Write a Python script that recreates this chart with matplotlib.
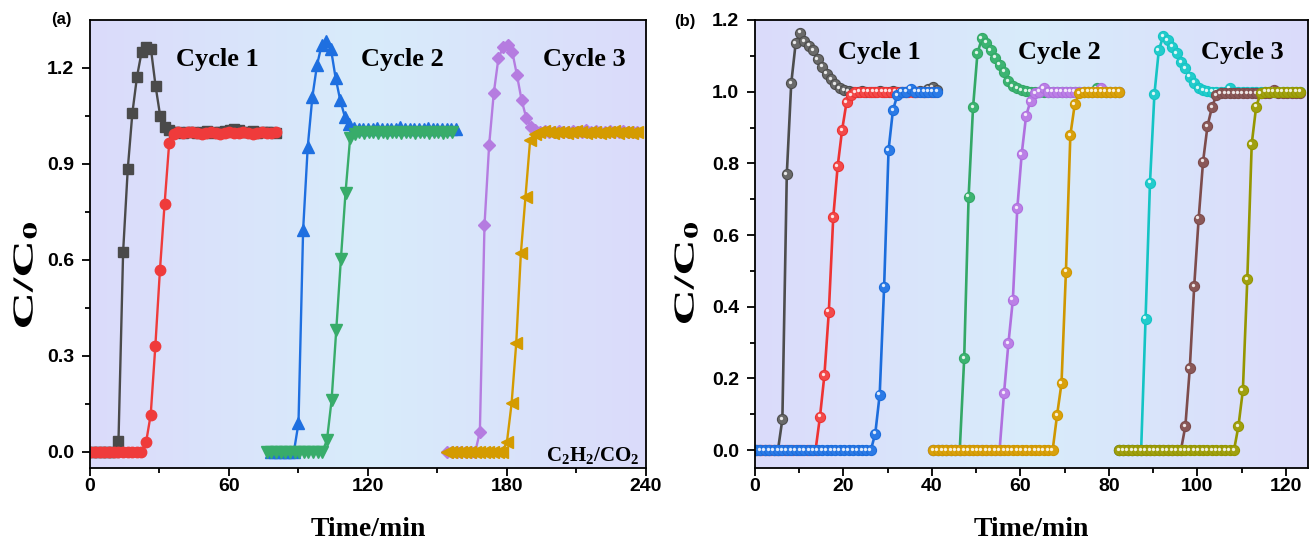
import matplotlib
matplotlib.use("Agg")
import matplotlib.pyplot as plt
import numpy as np
from matplotlib.colors import LinearSegmentedColormap
from matplotlib.transforms import offset_copy, Affine2D
from matplotlib.textpath import TextPath
from matplotlib.patches import PathPatch
from matplotlib.font_manager import FontProperties

plt.rcParams["font.family"] = "Liberation Sans"
plt.rcParams["mathtext.fontset"] = "custom"
plt.rcParams["mathtext.rm"] = "Liberation Serif:bold"
plt.rcParams["mathtext.bf"] = "Liberation Serif:bold"
plt.rcParams["mathtext.it"] = "Liberation Serif:bold"

# ---------------- panel (a): sampling every 2 min ----------------
a_step = 2.0
a_black_t0 = 0.3
a_black = [0, 0, 0, 0, 0, 0,
           0.035, 0.626, 0.884, 1.06, 1.173, 1.251, 1.267, 1.26, 1.144, 1.05, 1.017, 1.005,
           1.0, 1.0, 0.998, 1.0, 1.0, 0.997, 1.0, 1.002, 0.998, 1.0,
           1.0, 1.003, 1.005, 1.01, 1.005, 1.0, 1.0, 1.002, 0.998, 1.0,
           1.0, 1.0, 0.998]
a_red_t0 = 0.2
a_red = [0, 0, 0, 0, 0, 0, 0, 0, 0, 0, 0, 0,
         0.03, 0.116, 0.33, 0.569, 0.775, 0.967, 0.995,
         1.0, 0.998, 1.0, 1.0, 0.997, 0.995, 0.998, 1.0, 0.996, 0.995,
         0.998, 1.0, 0.997, 0.998, 1.0, 0.996, 0.994, 0.998, 1.0, 0.998,
         0.997, 1.0]
a_blue_t0 = 78.0
a_blue = [0, 0, 0, 0, 0, 0,
          0.09, 0.694, 0.954, 1.11, 1.209, 1.272, 1.285, 1.26, 1.17, 1.10, 1.048, 1.025,
          1.012, 1.01, 1.01, 1.008, 1.01, 1.012, 1.01, 1.01, 1.008, 1.01,
          1.015, 1.01, 1.01, 1.008, 1.01, 1.01, 1.012, 1.01, 1.008, 1.01,
          1.01, 1.01, 1.008]
a_green_t0 = 76.3
a_green = [0, 0, 0, 0, 0, 0, 0, 0, 0, 0, 0, 0, 0,
           0.0375, 0.1625, 0.381, 0.602, 0.81, 0.982,
           0.995, 1.0, 0.998, 1.0, 1.0, 0.997, 1.0, 0.998, 1.0, 1.0,
           0.998, 1.0, 1.0, 0.997, 1.0, 1.0, 0.998, 1.0, 1.0, 0.998,
           1.0, 1.0]
a_purple_t0 = 154.3
a_purple = [0, 0, 0, 0, 0, 0, 0,
            0.063, 0.709, 0.959, 1.121, 1.23, 1.265, 1.272, 1.25, 1.178, 1.10, 1.045, 1.015,
            1.005, 1.0, 1.002, 1.0, 1.0, 1.003, 1.0, 1.0, 1.002, 1.0,
            1.0, 1.005, 1.0, 1.002, 1.0, 1.0, 1.003, 1.0, 1.0, 1.002,
            1.0, 1.0, 1.0]
a_orange_t0 = 154.0
a_orange = [0, 0, 0, 0, 0, 0, 0, 0, 0, 0, 0, 0, 0,
            0.032, 0.152, 0.34, 0.621, 0.798, 0.975,
            0.995, 1.0, 1.003, 1.0, 0.998, 1.0, 1.0, 0.997, 1.0, 1.002,
            1.0, 0.998, 1.0, 1.0, 0.997, 1.0, 1.0, 1.002, 0.998, 1.0,
            1.0, 0.998, 1.0]

# ---------------- panel (b): sampling every 1 min ----------------
b_step = 1.0
b_gray_t0 = 0.2
b_gray = [0, 0, 0, 0, 0, 0,
          0.086, 0.77, 1.023, 1.135, 1.165, 1.14, 1.128, 1.115, 1.09, 1.07, 1.05, 1.035, 1.02, 1.01, 1.004,
          1.002, 1.0, 1.0, 1.002, 1.0, 1.0, 1.0, 1.003, 1.0, 1.0,
          1.002, 1.0, 1.0, 1.0, 1.005, 1.0, 1.002, 1.0, 1.008, 1.012, 1.005]
b_red_t0 = 0.7
b_red = [0, 0, 0, 0, 0, 0, 0, 0, 0, 0, 0, 0, 0, 0,
         0.093, 0.209, 0.386, 0.65, 0.792, 0.893, 0.97,
         0.99, 0.998, 1.0, 1.0, 1.0, 1.0, 1.0, 1.0, 1.0, 1.0,
         1.0, 1.0, 1.0, 1.0, 1.0, 1.0, 1.0, 1.0, 1.0, 1.0]
b_blue_t0 = 0.2
b_blue = [0, 0, 0, 0, 0, 0, 0, 0, 0, 0, 0, 0, 0, 0, 0, 0, 0, 0, 0, 0,
          0, 0, 0, 0, 0, 0, 0,
          0.046, 0.155, 0.456, 0.837, 0.949, 0.99,
          1.0, 1.0, 1.008, 1.0, 1.0, 1.0, 1.0, 1.0, 1.0]
b_green_t0 = 40.3
b_green = [0, 0, 0, 0, 0, 0, 0,
           0.256, 0.707, 0.956, 1.107, 1.149, 1.137, 1.116, 1.095, 1.075, 1.056, 1.03, 1.016, 1.009,
           1.004, 1.002,
           1.0, 1.0, 1.0, 1.0, 1.0, 1.0, 1.0, 1.0, 1.0, 1.0,
           1.0, 1.0, 1.0, 1.0, 1.0, 1.01, 1.0, 1.0, 1.0, 1.0, 1.0]
b_purple_t0 = 40.3
b_purple = [0, 0, 0, 0, 0, 0, 0, 0, 0, 0, 0, 0, 0, 0, 0, 0,
            0.158, 0.298, 0.419, 0.674, 0.826, 0.933, 0.974, 0.995,
            1.0, 1.01, 1.0, 1.0, 1.0, 1.0, 1.0, 1.0, 1.0, 1.0,
            1.0, 1.0, 1.0, 1.0, 1.01, 1.0, 1.0, 1.0, 1.0]
b_orange_t0 = 40.3
b_orange = [0, 0, 0, 0, 0, 0, 0, 0, 0, 0, 0, 0, 0, 0, 0, 0, 0, 0, 0, 0,
            0, 0, 0, 0, 0, 0, 0, 0,
            0.098, 0.186, 0.498, 0.879, 0.965, 0.995,
            1.0, 1.0, 1.0, 1.0, 1.0, 1.0, 1.0, 1.0, 1.0]
b_cyan_t0 = 82.3
b_cyan = [0, 0, 0, 0, 0, 0,
          0.366, 0.746, 0.993, 1.116, 1.155, 1.144, 1.125, 1.107, 1.083, 1.065, 1.042, 1.025, 1.009,
          1.004, 1.002,
          1.0, 1.0, 1.0, 1.0, 1.01, 1.0, 1.0, 1.0, 1.0, 1.0,
          1.0, 1.0, 1.0, 1.0, 1.0, 1.0, 1.0, 1.0, 1.0, 1.0, 1.0]
b_brown_t0 = 82.3
b_brown = [0, 0, 0, 0, 0, 0, 0, 0, 0, 0, 0, 0, 0, 0, 0,
           0.067, 0.228, 0.458, 0.645, 0.805, 0.904, 0.956, 0.99,
           0.995, 0.995, 0.995, 0.995, 0.995, 0.995, 0.995, 0.995, 0.995, 0.995,
           0.995, 0.995, 1.005, 0.995, 0.995, 0.995, 0.995, 0.995, 0.995]
b_olive_t0 = 82.3
b_olive = [0, 0, 0, 0, 0, 0, 0, 0, 0, 0, 0, 0, 0, 0, 0, 0, 0, 0, 0, 0,
           0, 0, 0, 0, 0, 0, 0,
           0.067, 0.167, 0.476, 0.854, 0.958, 0.995,
           1.0, 1.0, 1.0, 1.0, 1.0, 1.0, 1.0, 1.0, 1.0]

cycle_labels = ["Cycle 1", "Cycle 2", "Cycle 3"]
a_label_x = [54.8, 134.7, 213.6]
b_label_x = [28.2, 68.8, 110.2]


def times(t0, step, y):
    return t0 + step * np.arange(len(y))


def tall_ylabel(fig, s, cx, cy, size, length):
    # y label drawn as a path so it can be stretched along its length like the original
    tp = TextPath((0, 0), s, size=size, prop=FontProperties(family="Liberation Serif", weight="bold"))
    bb = tp.get_extents()
    sx = length / bb.width
    tr = (Affine2D().translate(-(bb.x0 + bb.x1) / 2, -(bb.y0 + bb.y1) / 2)
          .scale(sx, 1).rotate_deg(90).translate(cx, cy))
    fig.add_artist(PathPatch(tp, transform=tr, fc="black", ec="none"))


fig = plt.figure(figsize=(13.1, 5.46), dpi=100)
ax1 = fig.add_axes([0.0687, 0.1429, 0.4244, 0.8205])
ax2 = fig.add_axes([0.5763, 0.1429, 0.4221, 0.8205])

bg = LinearSegmentedColormap.from_list("bg", ["#dbdbfa", "#d8ecfb", "#dbdbfa"])
for ax in (ax1, ax2):
    ax.imshow(np.linspace(0, 1, 256).reshape(1, -1), cmap=bg, aspect="auto",
              extent=[0, 1, 0, 1], transform=ax.transAxes, zorder=0)

# panel (a)
a_series = [
    (a_black_t0, a_black, "#4a4a4a", "s", 7),
    (a_red_t0, a_red, "#ef3b3b", "o", 7.5),
    (a_blue_t0, a_blue, "#1e6fe0", "^", 8),
    (a_green_t0, a_green, "#38ac6a", "v", 8),
    (a_purple_t0, a_purple, "#b57ce0", "D", 6.5),
    (a_orange_t0, a_orange, "#d49b00", "<", 8),
]
for t0, y, c, m, ms in a_series:
    ax1.plot(times(t0, a_step, y), y, color=c, marker=m, ms=ms, lw=1.7,
             mec=c, mfc=c, zorder=2)

# panel (b): ball markers with a small highlight
hl = offset_copy(ax2.transData, fig=fig, x=-1.4, y=1.4, units="dots")
b_series = [
    (b_gray_t0, b_gray, "#4d4d4d", "#6a6a6a"),
    (b_red_t0, b_red, "#ee3333", "#f24a4a"),
    (b_blue_t0, b_blue, "#1c6ddc", "#2b7ae6"),
    (b_green_t0, b_green, "#33a866", "#3cb472"),
    (b_purple_t0, b_purple, "#b070df", "#bb80e6"),
    (b_orange_t0, b_orange, "#cf9700", "#d9a10c"),
    (b_cyan_t0, b_cyan, "#14c4c4", "#22cccc"),
    (b_brown_t0, b_brown, "#7d4c4c", "#8a5858"),
    (b_olive_t0, b_olive, "#959600", "#a0a010"),
]
for t0, y, c, fc in b_series:
    t = times(t0, b_step, y)
    ax2.plot(t, y, color=c, lw=1.9, marker="o", ms=7.3, mfc=fc, mec=c, mew=0.8, zorder=2)
    ax2.plot(t, y, ls="none", marker="o", ms=2.4, mfc="white", mec="none",
             alpha=0.85, transform=hl, zorder=2)

ax1.set_xlim(0, 240)
ax1.set_ylim(-0.05, 1.35)
ax1.set_xticks([0, 60, 120, 180, 240])
ax1.set_xticks([30, 90, 150, 210], minor=True)
ax1.set_yticks([0.0, 0.3, 0.6, 0.9, 1.2])
ax1.set_yticks([0.15, 0.45, 0.75, 1.05], minor=True)
ax1.set_yticklabels(["0.0", "0.3", "0.6", "0.9", "1.2"])

ax2.set_xlim(0, 125)
ax2.set_ylim(-0.05, 1.2)
ax2.set_xticks([0, 20, 40, 60, 80, 100, 120])
ax2.set_xticks([10, 30, 50, 70, 90, 110], minor=True)
ax2.set_yticks([0.0, 0.2, 0.4, 0.6, 0.8, 1.0, 1.2])
ax2.set_yticks([0.1, 0.3, 0.5, 0.7, 0.9, 1.1], minor=True)
ax2.set_yticklabels(["0.0", "0.2", "0.4", "0.6", "0.8", "1.0", "1.2"])

for ax in (ax1, ax2):
    for s in ax.spines.values():
        s.set_linewidth(1.3)
    ax.tick_params(which="both", direction="out", width=1.3, top=False, right=False)
    ax.tick_params(which="major", length=5.5)
    ax.tick_params(which="minor", length=3.5)
    ax.tick_params(axis="x", pad=2)
    ax.tick_params(axis="y", pad=6)
    for lab in ax.get_xticklabels() + ax.get_yticklabels():
        lab.set_fontweight("bold")
        lab.set_fontsize(14)
    ax.text(0.5, -0.138, "Time/min", transform=ax.transAxes, family="Liberation Serif",
            fontweight="bold", fontsize=20, ha="center", va="center")

# y labels, centres in figure pixels
tall_ylabel(fig, r"$\mathbf{C/C_0}$", 25, 271, 29, 104)
tall_ylabel(fig, r"$\mathbf{C/C_0}$", 686, 273, 29, 100)

for x, s in zip(a_label_x, cycle_labels):
    ax1.text(x, 1.225, s, family="Liberation Serif", fontweight="bold", fontsize=19,
             ha="center", va="center", zorder=3)
for x, s in zip(b_label_x, cycle_labels):
    ax2.text(x, 1.11, s, family="Liberation Serif", fontweight="bold", fontsize=19,
             ha="center", va="center", zorder=3)
ax1.text(0.988, 0.005, r"$\mathbf{C_2H_2/CO_2}$", transform=ax1.transAxes,
         fontsize=15, ha="right", va="bottom", zorder=3)

fig.text(0.047, 0.965, "(a)", fontweight="bold", fontsize=12, ha="center", va="center")
fig.text(0.523, 0.960, "(b)", fontweight="bold", fontsize=12, ha="center", va="center")

fig.savefig("out.png", dpi=100)
